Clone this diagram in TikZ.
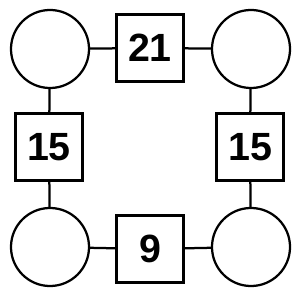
\documentclass[tikz,border=0pt]{standalone}
\usepackage{fontspec}
\setmainfont{Liberation Sans}
\usetikzlibrary{positioning}

\begin{document}
\begin{tikzpicture}[x=0.025cm, y=-0.025cm, line width=1.6pt,
			spot/.style={draw, circle, minimum size=1.95cm, inner sep=0pt},
			numbox/.style={draw, minimum size=1.68cm, inner sep=0pt, font=\fontsize{28}{30}\selectfont\bfseries}]
			\useasboundingbox (0,0) rectangle (300,300);
			\node[spot] (tl) at (50,49) {};
			\node[spot] (tr) at (251,49) {};
			\node[spot] (bl) at (50,247) {};
			\node[spot] (br) at (251,247) {};
			\node[numbox] (top) at (150,48) {21};
			\node[numbox] (left) at (49,147) {15};
			\node[numbox] (right) at (250,147) {15};
			\node[numbox] (bot) at (150,249) {9};
			\draw (tl) -- (top) -- (tr);
			\draw (tl) -- (left) -- (bl);
			\draw (tr) -- (right) -- (br);
			\draw (bl) -- (bot) -- (br);
		\end{tikzpicture}
\end{document}
